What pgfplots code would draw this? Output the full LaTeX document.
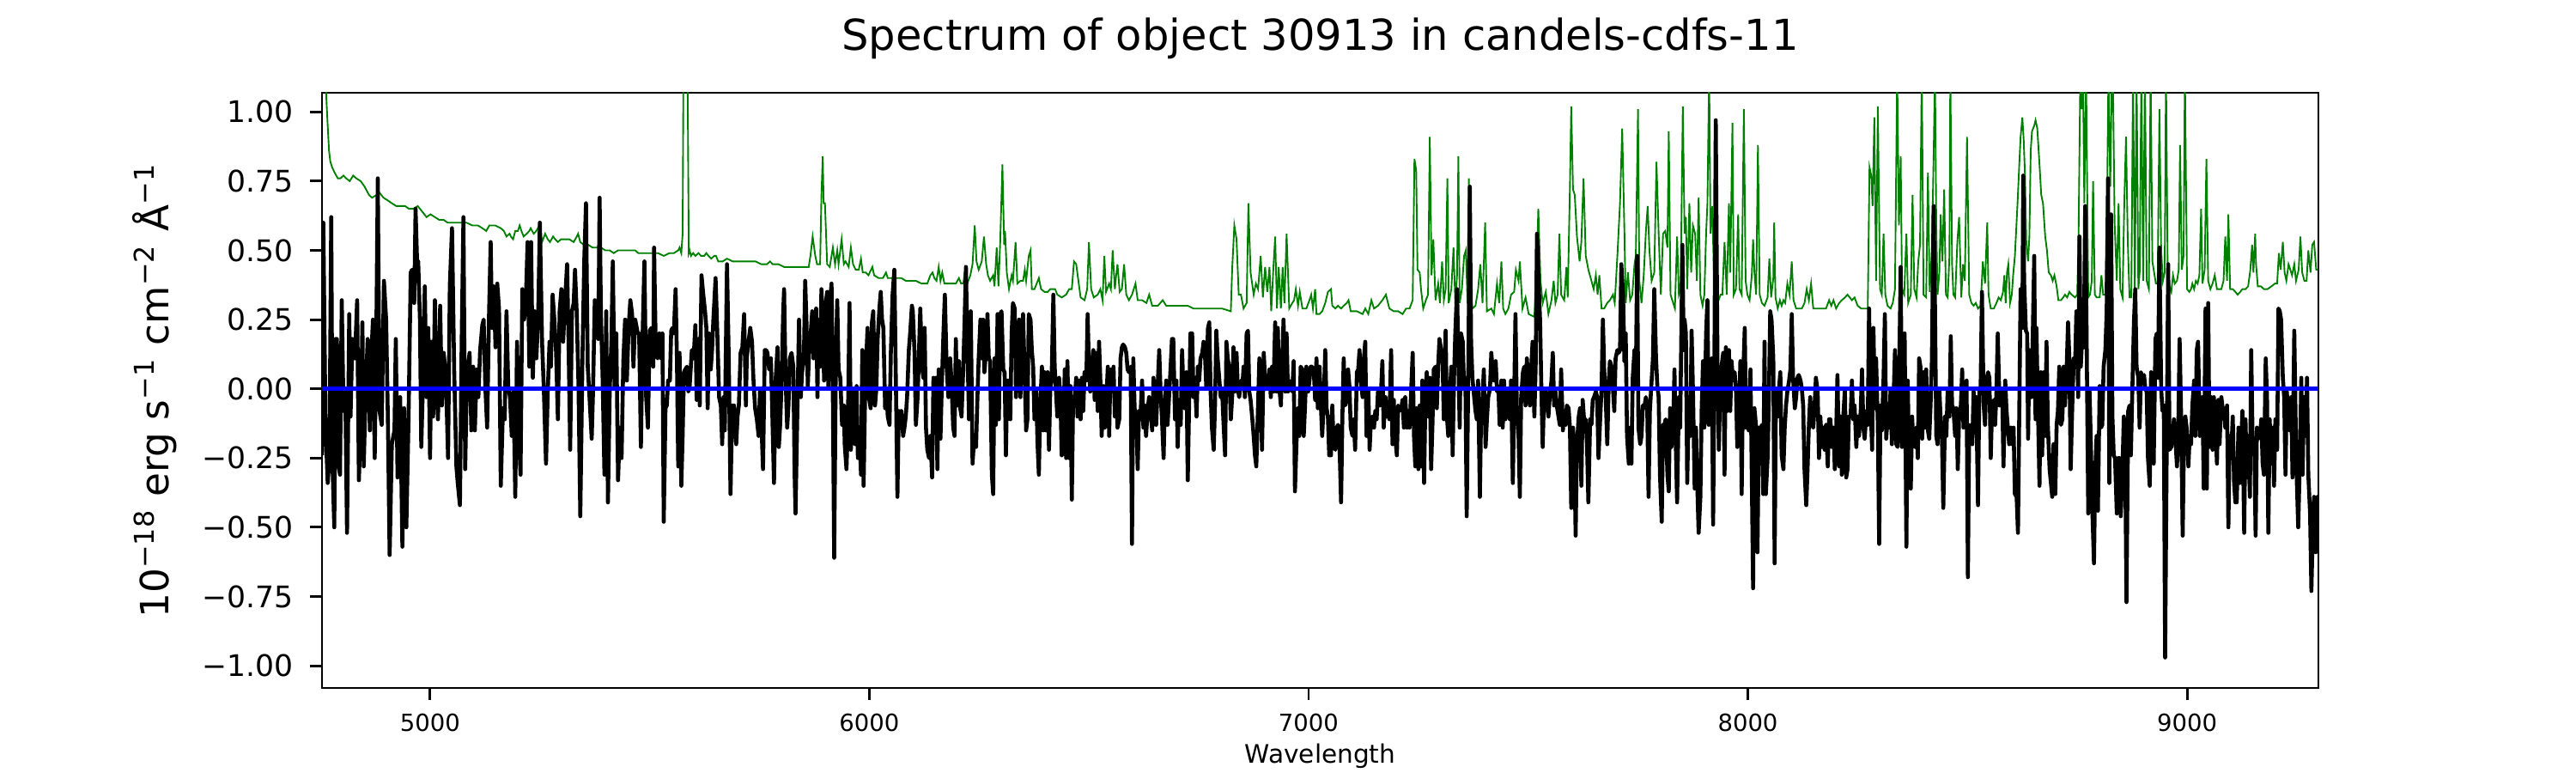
\documentclass[border=0pt]{standalone}
\usepackage{fontspec}
\setmainfont{DejaVu Sans}
\usepackage{pgfplots}
\pgfplotsset{compat=1.18}
\definecolor{mplgreen}{rgb}{0,0.5,0}
\begin{document}
\begin{tikzpicture}
\path[use as bounding box] (0,0) rectangle (720pt,216pt);
\begin{axis}[
  at={(90pt,23.76pt)}, anchor=south west,
  scale only axis, width=558pt, height=166.32pt,
  xmin=4754, xmax=9299, ymin=-1.08, ymax=1.069,
  xtick={5000,6000,7000,8000,9000},
  xticklabels={5000,6000,7000,8000,9000},
  ytick={-1,-0.75,-0.5,-0.25,0,0.25,0.5,0.75,1},
  yticklabels={−1.00,−0.75,−0.50,−0.25,0.00,0.25,0.50,0.75,1.00},
  scaled ticks=false,
  tick pos=left, tick align=outside, major tick length=3.4pt,
  major tick style={line width=0.7pt, black},
  axis line style={line width=0.7pt},
  xticklabel style={font=\fontsize{6.6}{8}\selectfont, anchor=base, yshift=-8.8pt},
  yticklabel style={font=\fontsize{8.3}{10}\selectfont, anchor=east, inner sep=0pt, xshift=-4.5pt},
  title={Spectrum of object 30913 in candels-cdfs-11},
  title style={font=\fontsize{11.9}{14}\selectfont, at={(axis description cs:0.5,1)}, anchor=base, yshift=5.8pt},
  xlabel={Wavelength},
  xlabel style={font=\fontsize{7.1}{9}\selectfont, at={(axis description cs:0.5,0)}, anchor=base, yshift=-20.9pt},
  ylabel={10\textsuperscript{−18} erg s\textsuperscript{−1} cm\textsuperscript{−2} Å\textsuperscript{−1}},
  ylabel style={font=\fontsize{10.9}{12}\selectfont, at={(axis description cs:-0.0839,0.5)}, anchor=center},
]
% green: error spectrum
\addplot[mplgreen, line width=0.45pt] coordinates {
(4754,1.6)(4763,1.08)(4767,0.95)(4770,0.86)(4773,0.82)(4777,0.80)(4783,0.78)(4790,0.76)(4796,0.76)(4803,0.77)(4809,0.76)(4817,0.75)(4825,0.77)(4832,0.76)(4842,0.75)(4851,0.73)(4861,0.70)(4868,0.69)(4878,0.70)(4884,0.71)(4894,0.69)(4904,0.68)(4913,0.67)(4923,0.66)(4933,0.66)(4943,0.66)(4952,0.65)(4962,0.65)(4972,0.66)(4982,0.64)(4992,0.62)(5001,0.63)(5011,0.62)(5021,0.61)(5031,0.61)(5040,0.60)(5050,0.60)(5060,0.60)(5070,0.60)(5083,0.60)(5096,0.59)(5109,0.59)(5119,0.58)(5128,0.57)(5135,0.59)(5148,0.59)(5161,0.58)(5168,0.57)(5174,0.55)(5181,0.56)(5184,0.55)(5189,0.54)(5194,0.57)(5200,0.57)(5204,0.59)(5208,0.57)(5213,0.55)(5220,0.56)(5226,0.57)(5229,0.58)(5236,0.56)(5242,0.57)(5249,0.59)(5255,0.53)(5262,0.56)(5268,0.54)(5273,0.53)(5280,0.55)(5285,0.54)(5291,0.53)(5298,0.54)(5308,0.54)(5317,0.54)(5327,0.53)(5334,0.55)(5337,0.56)(5342,0.53)(5350,0.52)(5360,0.52)(5370,0.51)(5379,0.51)(5389,0.51)(5399,0.50)(5409,0.50)(5418,0.49)(5428,0.50)(5438,0.50)(5448,0.50)(5458,0.50)(5467,0.50)(5474,0.49)(5484,0.49)(5493,0.49)(5503,0.49)
(5519,0.49)(5532,0.48)(5545,0.49)(5555,0.49)(5565,0.50)(5568,0.51)(5572,0.49)(5575,0.56)(5577,1.20)(5586,1.20)(5589,0.49)(5591,0.50)(5594,0.48)(5599,0.49)(5604,0.48)(5611,0.49)(5617,0.48)(5624,0.48)(5629,0.49)(5634,0.48)(5640,0.47)(5647,0.48)(5651,0.48)(5656,0.46)(5666,0.46)(5676,0.47)(5689,0.46)(5702,0.46)(5715,0.46)(5728,0.46)(5741,0.46)(5754,0.45)(5767,0.45)(5774,0.46)(5780,0.45)(5793,0.45)(5806,0.44)(5819,0.44)(5832,0.44)(5845,0.44)(5862,0.44)(5866,0.48)(5871,0.55)(5877,0.48)(5881,0.45)(5888,0.45)(5891,0.70)(5894,0.84)(5896,0.67)(5899,0.67)(5904,0.45)(5910,0.44)(5917,0.51)(5922,0.45)(5927,0.50)(5930,0.45)(5937,0.54)(5942,0.45)(5946,0.46)(5953,0.44)(5958,0.51)(5963,0.45)(5969,0.43)(5976,0.43)(5981,0.47)(5985,0.42)(5992,0.42)(5998,0.41)(6007,0.44)(6011,0.41)(6021,0.40)(6031,0.40)(6038,0.42)(6042,0.40)(6051,0.40)(6060,0.40)(6073,0.40)(6083,0.39)(6093,0.39)(6106,0.39)(6119,0.38)(6132,0.38)(6139,0.41)(6144,0.42)(6148,0.40)(6153,0.39)(6158,0.44)(6162,0.39)(6166,0.42)(6171,0.38)(6178,0.38)(6187,0.38)(6197,0.38)(6204,0.40)(6209,0.38)(6214,0.38)(6218,0.43)(6223,0.38)(6230,0.41)(6235,0.45)(6240,0.59)(6244,0.46)(6249,0.43)(6256,0.46)(6261,0.55)(6266,0.45)(6270,0.41)(6275,0.39)
(6282,0.41)(6285,0.37)(6290,0.51)(6294,0.37)(6298,0.53)(6303,0.81)(6307,0.52)(6309,0.57)(6313,0.42)(6318,0.36)(6324,0.41)(6327,0.39)(6333,0.53)(6337,0.38)(6344,0.39)(6350,0.39)(6354,0.43)(6357,0.39)(6363,0.48)(6367,0.50)(6370,0.36)(6376,0.36)(6381,0.38)(6386,0.40)(6391,0.36)(6399,0.35)(6406,0.35)(6412,0.36)(6419,0.36)(6423,0.36)(6428,0.34)(6438,0.33)(6448,0.34)(6455,0.36)(6461,0.36)(6466,0.46)(6471,0.45)(6476,0.39)(6481,0.33)(6490,0.32)(6496,0.36)(6500,0.53)(6505,0.36)(6511,0.33)(6520,0.34)(6526,0.36)(6531,0.32)(6535,0.48)(6539,0.35)(6546,0.38)(6550,0.36)(6554,0.50)(6559,0.36)(6562,0.41)(6565,0.45)(6570,0.35)(6575,0.36)(6580,0.45)(6585,0.34)(6591,0.32)(6598,0.34)(6602,0.36)(6606,0.38)(6611,0.32)(6621,0.32)(6631,0.31)(6637,0.34)(6644,0.30)(6657,0.30)(6668,0.32)(6676,0.30)(6686,0.30)(6699,0.30)(6712,0.30)(6725,0.30)(6738,0.29)(6751,0.29)(6764,0.29)(6777,0.29)(6790,0.29)(6803,0.29)(6823,0.28)(6826,0.43)(6831,0.59)(6836,0.54)(6841,0.34)(6846,0.34)(6852,0.29)(6859,0.31)(6863,0.67)(6868,0.42)(6875,0.34)(6880,0.38)(6885,0.36)(6891,0.48)(6896,0.33)(6901,0.44)(6906,0.35)(6911,0.44)(6915,0.28)(6920,0.44)(6924,0.55)(6928,0.29)(6932,0.44)(6937,0.29)(6941,0.44)(6945,0.31)(6950,0.56)(6956,0.29)(6963,0.31)(6967,0.32)(6971,0.36)(6976,0.30)(6980,0.35)(6986,0.29)(6995,0.29)(7002,0.32)(7006,0.34)(7010,0.29)(7015,0.36)(7018,0.27)(7025,0.27)(7031,0.28)(7038,0.31)(7044,0.35)(7051,0.36)
(7054,0.30)(7061,0.29)(7067,0.30)(7074,0.29)(7080,0.30)(7087,0.31)(7091,0.32)(7096,0.28)(7110,0.28)(7123,0.27)(7129,0.29)(7136,0.27)(7143,0.32)(7149,0.29)(7158,0.30)(7168,0.32)(7176,0.34)(7184,0.29)(7194,0.28)(7204,0.28)(7214,0.27)(7222,0.29)(7230,0.29)(7237,0.32)(7241,0.83)(7245,0.79)(7248,0.43)(7253,0.42)(7256,0.36)(7261,0.29)(7267,0.32)(7272,0.34)(7276,0.91)(7280,0.41)(7284,0.54)(7289,0.32)(7295,0.38)(7299,0.31)(7304,0.46)(7308,0.32)(7312,0.36)(7316,0.76)(7319,0.31)(7325,0.36)(7330,0.51)(7334,0.31)(7338,0.41)(7341,0.84)(7344,0.31)(7349,0.36)(7354,0.48)(7358,0.50)(7362,0.31)(7365,0.76)(7369,0.36)(7373,0.29)(7380,0.30)(7386,0.36)(7391,0.45)(7396,0.31)(7402,0.60)(7406,0.28)(7416,0.29)(7422,0.27)(7429,0.38)(7434,0.31)(7439,0.46)(7443,0.29)(7448,0.27)(7455,0.29)(7461,0.34)(7468,0.35)(7472,0.43)(7478,0.39)(7481,0.46)(7487,0.29)(7494,0.33)(7501,0.27)(7514,0.26)(7519,0.42)(7523,0.65)(7528,0.39)(7533,0.31)(7540,0.35)(7546,0.27)(7553,0.32)(7558,0.39)(7562,0.31)(7567,0.34)(7571,0.56)(7575,0.34)(7582,0.32)(7587,0.44)(7590,0.33)(7595,0.73)(7598,1.02)(7602,0.72)(7606,0.70)(7611,0.55)(7617,0.46)(7621,0.53)(7626,0.76)(7631,0.48)(7637,0.43)(7644,0.39)(7649,0.36)(7654,0.41)(7658,0.34)(7662,0.41)(7667,0.29)(7673,0.29)(7680,0.31)(7686,0.32)(7693,0.34)(7697,0.31)(7703,0.48)(7709,0.67)(7714,0.94)(7719,0.57)(7722,0.31)(7727,0.42)(7732,0.32)(7737,0.34)(7742,0.45)(7745,0.48)(7750,1.01)(7753,0.39)(7758,0.31)(7763,0.41)(7768,0.57)(7772,0.66)(7776,0.50)(7781,0.39)(7787,0.42)(7792,0.82)(7797,0.56)(7802,0.34)(7807,0.56)(7812,0.57)
(7817,0.51)(7820,0.93)(7824,0.34)(7830,0.31)(7834,0.29)(7839,0.55)(7843,0.34)(7847,0.36)(7852,1.02)(7856,0.56)(7859,0.62)(7862,0.36)(7867,0.67)(7871,0.42)(7875,0.59)(7880,0.56)(7884,0.39)(7888,0.69)(7892,0.34)(7897,0.30)(7901,0.34)(7905,0.56)(7908,0.67)(7912,1.15)(7915,0.56)(7919,0.66)(7924,0.34)(7931,0.31)(7938,0.34)(7942,0.34)(7947,0.53)(7952,0.34)(7957,0.67)(7960,0.42)(7965,0.96)(7968,0.34)(7973,0.36)(7978,0.63)(7981,0.36)(7986,0.34)(7991,1.01)(7995,0.39)(7999,0.34)(8004,0.32)(8009,0.41)(8012,0.54)(8015,0.42)(8019,0.34)(8023,0.88)(8027,0.34)(8032,0.31)(8038,0.30)(8045,0.33)(8049,0.47)(8053,0.33)(8058,0.40)(8060,0.60)(8063,0.33)(8068,0.29)(8073,0.32)(8077,0.30)(8081,0.32)(8085,0.31)(8090,0.38)(8095,0.34)(8100,0.46)(8104,0.32)(8110,0.29)(8116,0.29)(8123,0.29)(8129,0.31)(8134,0.36)(8139,0.32)(8144,0.38)(8149,0.29)(8159,0.29)(8169,0.29)(8178,0.29)(8185,0.32)(8190,0.30)(8195,0.32)(8201,0.29)(8208,0.31)(8214,0.32)(8221,0.33)(8227,0.34)(8232,0.33)(8237,0.32)(8243,0.33)(8250,0.30)(8258,0.29)(8266,0.29)(8273,0.29)(8277,0.80)(8281,0.77)(8284,0.66)(8288,0.98)(8292,0.39)(8296,1.02)(8301,0.36)(8305,0.34)(8309,0.56)(8313,0.34)(8318,0.30)(8325,0.29)(8330,0.31)(8335,0.36)(8340,1.15)(8344,0.59)(8348,0.84)(8351,0.36)(8356,0.34)(8361,0.56)(8365,0.31)(8371,0.34)(8375,0.70)(8379,0.36)(8384,0.33)(8388,0.46)(8392,0.52)(8396,1.15)(8400,0.34)(8406,0.33)(8410,0.78)(8414,0.35)(8419,0.50)(8423,0.84)(8426,1.15)(8429,0.59)(8432,0.34)(8436,0.42)(8439,0.63)(8443,0.46)(8447,0.72)(8451,0.34)(8455,0.33)(8459,0.48)(8461,1.15)(8465,0.45)(8468,0.34)(8472,0.33)(8477,0.53)(8481,0.62)(8486,0.33)(8490,0.45)(8494,0.39)(8499,0.91)(8504,0.34)(8509,0.31)(8514,0.30)(8519,0.31)(8524,0.29)(8530,0.30)(8535,0.46)(8540,0.38)(8545,0.60)(8548,0.34)(8553,0.29)(8560,0.29)(8566,0.31)(8571,0.33)(8576,0.32)
(8581,0.35)(8584,0.41)(8587,0.31)(8590,0.42)(8593,0.45)(8597,0.31)(8601,0.34)(8604,0.41)(8608,0.48)(8614,0.67)(8618,0.81)(8621,0.91)(8625,0.98)(8628,0.90)(8631,0.77)(8634,0.53)(8638,0.46)(8641,0.55)(8644,0.86)(8647,0.93)(8652,0.95)(8655,0.97)(8659,0.94)(8664,0.81)(8668,0.70)(8672,0.67)(8677,0.55)(8681,0.50)(8685,0.42)(8690,0.41)(8694,0.39)(8698,0.41)(8703,0.37)(8707,0.32)(8713,0.32)(8718,0.33)(8722,0.34)(8727,0.33)(8732,0.35)(8737,0.34)(8745,0.33)(8750,0.34)(8753,0.56)(8757,1.15)(8760,1.01)(8763,1.15)(8766,0.67)(8770,1.15)(8775,0.33)(8779,0.34)(8783,0.39)(8786,0.75)(8790,0.34)(8794,0.33)(8801,0.33)(8805,0.41)(8809,0.34)(8814,0.34)(8818,0.70)(8821,1.15)(8825,0.73)(8829,1.15)(8831,1.15)(8835,0.60)(8840,0.39)(8844,0.67)(8848,0.36)(8853,0.33)(8857,0.67)(8861,0.91)(8865,0.53)(8869,0.33)(8873,0.33)(8877,1.15)(8881,0.36)(8885,1.15)(8889,0.36)(8892,0.42)(8896,1.15)(8900,0.39)(8904,1.15)(8908,0.39)(8913,0.36)(8917,1.15)(8921,0.46)(8925,0.42)(8929,0.38)(8933,0.38)(8937,1.01)(8941,0.50)(8945,0.39)(8949,0.42)(8952,1.15)(8956,0.39)(8960,0.37)(8964,0.35)(8968,0.41)(8972,0.38)(8977,0.39)(8981,0.43)(8984,0.88)(8988,0.43)(8992,0.48)(8995,1.15)(9000,0.36)(9005,0.35)(9009,0.36)(9012,0.38)(9016,0.36)(9020,0.39)(9024,0.38)(9028,0.41)(9032,0.65)(9035,0.38)(9040,0.43)(9044,0.83)(9048,0.39)(9053,0.36)(9058,0.38)(9063,0.41)(9068,0.36)(9072,0.36)(9078,0.36)(9083,0.39)(9087,0.55)(9091,0.39)(9094,0.63)(9098,0.36)(9104,0.36)(9110,0.35)(9115,0.34)(9121,0.35)(9126,0.36)(9133,0.36)(9139,0.37)(9144,0.43)(9148,0.52)(9151,0.42)(9155,0.56)(9157,0.45)(9161,0.37)(9168,0.37)(9175,0.36)(9183,0.36)(9192,0.37)(9200,0.38)(9205,0.38)(9209,0.49)(9213,0.43)(9218,0.53)(9222,0.42)(9226,0.39)(9231,0.45)(9235,0.43)(9239,0.41)(9244,0.45)(9248,0.39)(9254,0.43)(9258,0.55)(9262,0.42)(9267,0.39)(9272,0.39)(9276,0.50)(9281,0.42)(9285,0.52)(9289,0.53)(9294,0.43)(9298,0.43)
};
% black: flux
\addplot[black, line width=1.1pt, line join=round] coordinates {
(4754,-0.24)(4757,0.60)(4762,-0.13)(4767,-0.34)(4771,-0.25)(4775,0.62)(4778,-0.28)(4782,-0.50)(4785,0.18)(4788,0.18)(4791,-0.27)(4795,-0.31)(4799,0.32)(4803,-0.08)(4807,-0.01)(4811,-0.52)(4816,0.27)(4819,-0.10)(4823,0.18)(4829,0.11)(4834,0.32)(4838,-0.33)(4842,-0.13)(4846,0.24)(4849,-0.28)(4853,-0.03)(4858,0.18)(4863,-0.15)(4866,0.11)(4870,0.25)(4874,-0.25)(4878,0.25)(4881,0.76)(4885,-0.08)(4890,-0.13)(4895,0.39)(4900,0.25)(4904,-0.11)(4908,-0.60)(4913,-0.20)(4919,-0.15)(4922,0.18)(4926,-0.32)(4932,-0.03)(4937,-0.57)(4941,-0.07)(4946,-0.50)(4951,-0.11)(4956,0.42)(4959,0.43)(4964,0.31)(4967,0.65)(4971,0.43)(4973,0.46)(4977,0.25)(4980,-0.21)(4984,0.03)(4988,0.37)(4992,-0.03)(4996,0.22)(5000,-0.25)(5003,0.17)(5007,-0.10)(5011,0.32)(5014,0.03)(5018,-0.11)(5023,0.30)(5027,-0.06)(5031,0.13)(5036,0.05)(5041,-0.25)(5045,0.37)(5050,0.58)(5055,0.06)(5060,-0.28)(5063,-0.34)(5068,-0.42)(5072,0.17)(5076,0.62)(5080,-0.29)(5083,-0.03)(5086,0.08)(5090,0.13)(5094,-0.15)(5098,0.08)(5102,-0.15)(5106,0.07)(5110,-0.03)(5114,0.14)(5119,0.23)(5122,0.25)(5126,0.00)(5130,-0.14)(5134,0.25)(5138,0.53)(5141,0.22)(5145,0.37)(5149,0.15)(5153,0.38)(5157,0.29)(5161,-0.35)(5166,-0.07)(5170,-0.11)(5174,0.28)(5178,0.01)(5182,-0.03)(5186,-0.17)(5190,-0.01)(5194,-0.39)(5198,0.17)(5202,-0.15)(5206,-0.31)(5210,0.36)(5214,0.25)(5218,0.31)(5222,0.53)(5226,0.08)(5230,0.53)(5234,0.04)(5238,0.28)(5242,0.11)(5246,0.25)(5250,0.60)(5255,0.17)(5259,0.00)(5264,-0.27)(5268,-0.01)(5272,0.17)(5275,0.08)(5279,0.34)(5283,0.25)(5287,0.13)(5291,-0.11)(5295,0.28)(5299,0.36)(5303,0.17)(5307,0.31)(5312,0.45)(5315,0.20)(5319,-0.22)(5323,0.28)(5327,0.31)(5330,0.43)(5334,0.27)(5338,0.01)(5342,-0.46)(5347,0.12)(5351,0.46)(5355,0.67)(5359,0.08)(5363,-0.03)(5368,-0.18)(5371,-0.01)(5375,0.32)(5379,0.25)(5383,0.18)(5386,0.69)(5389,0.27)(5393,0.03)(5397,-0.31)(5401,0.28)(5405,-0.41)(5409,-0.01)(5413,0.18)(5416,0.46)(5420,0.00)(5424,0.20)(5428,-0.33)(5432,-0.14)(5436,-0.25)(5440,0.10)(5444,0.25)(5448,0.03)(5452,0.22)(5456,0.32)(5460,0.27)(5463,0.08)(5467,0.25)(5473,0.20)(5476,0.20)(5480,-0.21)(5484,0.20)(5488,0.46)(5492,-0.03)(5496,-0.14)(5500,0.21)(5504,0.22)(5508,0.08)
(5510,0.51)(5514,0.13)(5518,0.11)(5522,0.20)(5526,0.11)(5529,0.20)(5532,-0.48)(5536,-0.07)(5539,-0.06)(5542,0.03)(5546,0.03)(5549,0.21)(5552,0.22)(5555,0.20)(5559,0.36)(5562,0.11)(5565,-0.28)(5568,0.13)(5572,-0.35)(5575,-0.17)(5578,0.06)(5581,0.07)(5585,0.08)(5588,-0.01)(5591,0.01)(5596,0.14)(5600,0.11)(5604,0.23)(5607,-0.04)(5611,0.18)(5614,-0.06)(5618,0.41)(5622,0.34)(5626,0.28)(5629,0.22)(5632,-0.07)(5635,0.20)(5639,0.07)(5642,0.14)(5645,0.25)(5650,0.40)(5654,0.20)(5658,-0.03)(5662,-0.06)(5665,-0.20)(5668,-0.03)(5671,-0.15)(5676,0.45)(5680,0.11)(5684,-0.38)(5688,-0.06)(5692,-0.06)(5697,-0.20)(5700,-0.10)(5703,-0.06)(5707,0.13)(5711,0.15)(5715,0.27)(5719,-0.06)(5721,0.11)(5725,0.17)(5729,0.22)(5733,0.17)(5736,0.04)(5740,-0.07)(5744,-0.11)(5748,-0.17)(5751,-0.01)(5754,-0.11)(5758,-0.29)(5762,0.14)(5765,0.14)(5768,0.13)(5772,0.07)(5776,0.11)(5779,-0.08)(5783,-0.34)(5787,0.04)(5791,0.15)(5794,-0.21)(5797,-0.13)(5800,0.01)(5804,0.28)(5806,0.36)(5809,0.06)(5813,-0.14)(5816,-0.06)(5819,0.11)(5823,0.13)(5827,0.08)(5830,-0.31)(5832,-0.45)(5836,-0.10)(5840,0.25)(5844,-0.03)(5847,0.06)(5851,0.11)(5854,0.39)(5857,0.24)(5860,0.01)(5864,0.18)(5867,0.21)(5870,0.28)(5873,0.11)(5876,0.20)(5879,0.29)(5882,-0.03)(5884,0.25)(5888,0.08)(5891,0.36)(5895,0.20)(5897,0.03)(5901,0.31)(5904,0.35)(5907,0.00)(5910,0.31)(5914,0.38)(5917,-0.01)(5920,-0.61)(5924,0.13)(5927,0.32)(5930,0.07)(5934,0.04)(5938,-0.13)(5942,-0.06)(5944,-0.20)(5948,-0.29)(5951,-0.14)(5955,0.31)(5958,-0.22)(5961,-0.14)(5965,0.00)(5968,-0.20)(5971,0.01)(5974,-0.25)(5978,-0.15)(5981,-0.31)(5984,0.14)(5987,-0.35)(5990,-0.06)(5993,0.11)(5996,0.22)(6000,-0.04)(6003,-0.07)(6006,0.24)(6009,0.28)(6013,-0.06)(6016,0.00)(6019,0.18)(6023,0.29)(6026,0.35)(6029,0.25)(6032,0.22)(6036,-0.07)(6039,-0.01)(6042,-0.10)(6046,-0.13)(6049,0.13)(6053,0.34)(6057,0.43)(6060,0.08)(6064,-0.39)(6067,-0.08)(6070,-0.14)(6073,-0.08)(6077,-0.17)(6080,-0.14)(6083,-0.10)(6086,-0.03)(6090,0.14)(6093,0.20)(6097,0.30)(6099,0.28)(6103,0.13)(6106,-0.13)(6110,-0.03)(6113,0.13)(6116,0.29)(6120,0.08)(6123,0.04)(6126,0.22)(6129,-0.14)(6132,-0.22)(6136,-0.25)(6139,-0.17)(6143,-0.32)(6146,0.04)(6149,-0.11)(6152,0.04)(6155,-0.29)(6158,0.07)(6162,-0.18)(6165,0.01)(6169,0.21)(6172,0.34)(6176,0.08)(6180,-0.03)(6184,0.11)(6187,0.03)(6191,-0.14)(6194,-0.17)(6197,0.18)(6200,-0.06)(6204,0.10)(6207,-0.07)(6210,-0.10)(6214,0.08)(6217,0.25)(6220,0.44)(6223,0.17)(6227,-0.11)(6231,0.28)(6235,-0.27)(6239,-0.17)(6243,-0.21)(6246,-0.04)(6249,0.11)(6253,0.25)(6256,0.11)(6259,0.25)(6262,0.06)(6266,0.14)(6269,0.27)(6272,0.11)(6275,0.10)(6279,-0.31)(6282,-0.38)(6285,0.11)
(6288,-0.13)(6292,0.27)(6295,-0.11)(6298,0.27)(6301,0.28)(6305,0.07)(6308,0.06)(6311,-0.24)(6314,0.03)(6318,0.03)(6321,-0.11)(6324,0.20)(6327,0.31)(6331,0.29)(6334,-0.03)(6337,0.10)(6341,0.25)(6344,-0.03)(6347,0.18)(6350,0.27)(6354,0.03)(6357,-0.15)(6360,-0.11)(6363,0.27)(6367,0.25)(6370,0.14)(6373,0.08)(6376,-0.11)(6380,-0.01)(6383,-0.20)(6386,-0.31)(6389,-0.06)(6393,0.08)(6396,-0.15)(6399,0.06)(6402,-0.15)(6406,0.06)(6409,-0.22)(6412,0.00)(6415,0.03)(6419,0.34)(6422,0.08)(6425,-0.01)(6428,-0.10)(6432,0.04)(6435,-0.03)(6438,-0.24)(6441,-0.17)(6445,0.07)(6448,-0.25)(6451,0.10)(6455,-0.25)(6458,0.01)(6461,-0.40)(6464,-0.03)(6468,-0.03)(6471,0.04)(6474,-0.10)(6477,0.03)(6481,-0.11)(6484,0.04)(6487,-0.08)(6490,0.06)(6494,0.03)(6497,0.27)(6500,0.08)(6503,-0.01)(6507,0.08)(6510,0.14)(6513,-0.04)(6516,0.13)(6520,-0.08)(6523,0.17)(6526,0.03)(6529,-0.17)(6533,0.01)(6536,-0.14)(6539,-0.06)(6543,0.08)(6546,-0.17)(6549,0.07)(6552,-0.01)(6556,0.08)(6559,-0.10)(6562,0.00)(6565,-0.14)(6569,-0.11)(6572,0.11)(6575,0.15)(6578,0.16)(6582,0.15)(6585,0.13)(6588,0.07)(6591,0.06)(6595,0.08)(6598,-0.56)(6601,0.11)(6604,-0.07)(6608,-0.11)(6611,-0.29)(6614,-0.08)(6617,-0.11)(6621,0.03)(6624,-0.14)(6627,-0.06)(6630,-0.17)(6634,-0.07)(6637,-0.03)(6640,-0.08)(6644,-0.15)(6647,0.04)(6650,-0.06)(6653,-0.13)(6657,0.03)(6660,0.14)(6663,-0.01)(6666,-0.10)(6670,-0.25)(6673,-0.04)(6676,0.03)(6679,-0.13)(6683,-0.01)(6686,0.08)(6689,0.18)(6692,0.18)(6696,-0.11)(6699,0.03)(6702,-0.21)(6705,-0.04)(6709,-0.13)(6712,0.14)(6715,0.00)(6718,-0.07)(6722,0.06)(6725,-0.33)(6728,-0.06)(6731,0.20)(6735,0.20)(6738,-0.03)(6741,0.04)(6745,-0.10)(6748,0.08)(6751,0.03)(6754,0.11)(6758,0.13)(6761,0.17)(6764,0.13)(6767,0.01)(6771,0.22)(6774,0.24)(6777,-0.01)(6780,-0.14)(6784,-0.22)(6787,-0.06)(6790,0.21)(6793,0.11)(6797,0.03)(6800,-0.03)(6803,0.00)(6806,-0.11)(6810,-0.24)(6813,0.17)(6816,0.11)(6819,0.08)(6823,-0.11)(6826,-0.03)(6829,0.15)(6832,-0.01)(6836,0.13)(6839,0.00)(6842,-0.03)(6846,0.03)(6849,0.00)(6852,0.08)(6855,-0.03)(6859,0.20)(6862,0.21)(6865,-0.01)(6868,-0.04)(6872,-0.11)(6875,-0.17)(6878,-0.24)(6881,-0.28)(6885,-0.06)(6888,0.11)(6891,0.00)(6894,-0.22)(6898,0.13)(6901,0.03)(6904,0.01)(6907,0.00)(6911,0.07)(6914,-0.03)(6917,0.08)(6920,-0.01)(6924,0.24)(6927,-0.01)(6930,0.22)(6933,0.01)(6937,-0.06)(6940,0.10)(6943,0.25)(6947,-0.01)(6950,0.20)(6953,-0.01)(6956,0.03)(6960,0.00)(6963,-0.01)(6966,0.10)(6969,-0.37)(6973,-0.17)(6976,-0.07)(6979,-0.17)(6982,0.08)(6986,0.07)(6989,-0.17)(6992,-0.06)(6995,0.08)(6999,-0.01)(7002,0.03)(7005,0.08)(7008,0.08)(7012,0.06)(7015,-0.04)(7018,0.11)(7021,-0.07)(7025,0.08)(7028,-0.06)(7031,-0.17)(7034,-0.07)(7038,0.14)(7041,-0.07)(7044,-0.10)(7047,-0.24)
(7051,-0.24)(7054,-0.06)(7057,-0.20)(7061,-0.22)(7064,-0.14)(7067,-0.13)(7070,-0.18)(7074,-0.41)(7077,-0.10)(7080,0.11)(7083,-0.06)(7087,-0.04)(7090,0.07)(7093,0.01)(7096,-0.14)(7100,-0.17)(7103,-0.11)(7106,-0.22)(7110,0.06)(7113,0.07)(7116,0.14)(7119,0.03)(7123,-0.03)(7126,0.11)(7129,0.17)(7132,-0.17)(7136,0.00)(7139,-0.22)(7142,-0.11)(7145,-0.10)(7149,-0.14)(7152,-0.08)(7155,-0.11)(7158,-0.01)(7162,-0.06)(7165,-0.01)(7168,0.10)(7171,-0.14)(7175,-0.03)(7178,-0.10)(7181,-0.07)(7184,-0.11)(7188,0.14)(7191,-0.20)(7194,-0.04)(7197,-0.17)(7201,-0.24)(7204,-0.06)(7207,-0.08)(7211,-0.07)(7214,-0.04)(7217,-0.14)(7220,-0.03)(7224,-0.14)(7227,-0.08)(7230,-0.14)(7233,-0.03)(7237,0.13)(7240,-0.17)(7243,-0.28)(7246,-0.07)(7250,-0.29)(7253,-0.06)(7256,-0.28)(7259,0.03)(7263,-0.34)(7266,-0.03)(7269,0.06)(7272,-0.10)(7276,0.04)(7279,-0.29)(7282,-0.13)(7285,0.07)(7289,0.08)(7292,-0.07)(7295,0.08)(7298,0.18)(7302,0.14)(7305,0.10)(7308,-0.11)(7312,0.21)(7315,-0.10)(7318,-0.17)(7321,-0.03)(7325,0.08)(7328,-0.24)(7331,0.03)(7334,0.20)(7338,0.36)(7341,0.11)(7344,-0.14)(7347,0.20)(7351,0.17)(7354,0.00)(7357,0.04)(7360,-0.46)(7364,0.11)(7367,0.73)(7370,0.17)(7373,0.04)(7377,-0.03)(7380,-0.08)(7383,-0.11)(7386,0.03)(7390,-0.39)(7393,-0.06)(7396,-0.03)(7399,0.07)(7403,-0.21)(7406,-0.11)(7409,-0.03)(7413,0.00)(7416,0.13)(7419,0.07)(7422,0.03)(7426,0.10)(7429,-0.01)(7432,0.01)(7435,-0.13)(7439,0.03)(7442,-0.14)(7445,0.03)(7448,-0.11)(7452,-0.03)(7455,0.00)(7458,-0.11)(7461,0.03)(7465,-0.34)(7468,-0.04)(7471,0.27)(7474,-0.06)(7478,-0.17)(7481,-0.39)(7484,-0.03)(7488,0.06)(7491,0.08)(7494,-0.06)(7497,0.11)(7501,0.00)(7504,-0.06)(7507,0.08)(7510,0.17)(7514,-0.10)(7517,0.08)(7520,0.56)(7523,0.42)(7527,0.25)(7530,0.00)(7533,-0.21)(7536,-0.03)(7540,0.00)(7543,-0.06)(7546,-0.10)(7549,-0.03)(7553,0.03)(7556,0.13)(7559,-0.06)(7562,-0.01)(7566,-0.07)(7569,-0.10)(7572,-0.13)(7575,0.07)(7579,-0.15)(7582,-0.08)(7585,-0.13)(7588,-0.06)(7592,-0.07)(7595,-0.14)(7598,-0.43)(7602,-0.14)(7605,-0.22)(7608,-0.53)(7611,-0.20)(7615,-0.10)(7618,-0.07)(7621,-0.35)(7624,-0.04)(7628,-0.13)(7631,-0.11)(7634,-0.21)(7637,-0.41)(7641,-0.11)(7644,-0.13)(7647,-0.04)(7650,-0.03)(7654,-0.01)(7657,-0.03)(7660,-0.25)(7663,-0.14)(7667,0.00)(7670,0.25)(7673,0.07)(7676,-0.01)(7680,-0.20)(7683,0.00)(7686,0.10)(7690,0.08)(7693,0.00)(7696,-0.08)(7699,0.11)(7703,0.14)(7706,0.13)(7709,0.14)(7712,0.45)(7716,0.34)(7719,0.10)(7722,0.20)(7725,-0.17)(7729,-0.27)(7732,-0.14)(7735,-0.27)(7738,0.04)(7742,0.14)(7745,0.01)(7748,0.48)(7751,-0.14)(7755,-0.20)(7758,-0.17)(7761,-0.06)(7764,-0.07)(7768,-0.03)(7771,-0.07)(7774,-0.39)(7777,-0.08)(7781,0.03)(7784,0.11)(7787,0.36)(7791,0.11)(7794,0.01)(7797,-0.03)(7800,-0.31)(7804,-0.48)(7807,-0.13)(7810,-0.13)
(7813,-0.11)(7817,-0.31)(7820,-0.37)(7823,-0.07)(7826,-0.21)(7830,-0.14)(7833,0.07)(7836,-0.20)(7839,-0.41)(7843,-0.03)(7846,-0.14)(7849,0.25)(7851,0.52)(7854,0.14)(7856,0.25)(7859,0.20)(7862,-0.34)(7866,-0.03)(7869,-0.17)(7872,0.21)(7875,0.00)(7879,-0.36)(7882,-0.14)(7885,-0.35)(7888,-0.52)(7892,-0.39)(7895,-0.07)(7898,0.10)(7901,-0.14)(7905,0.20)(7908,0.32)(7911,-0.13)(7914,0.00)(7918,0.11)(7921,-0.49)(7924,0.11)(7927,0.97)(7931,0.08)(7934,-0.22)(7937,0.00)(7940,0.08)(7944,0.13)(7947,-0.31)(7950,0.15)(7953,-0.08)(7957,0.14)(7960,-0.08)(7963,0.10)(7966,0.03)(7970,0.06)(7973,0.00)(7976,-0.21)(7980,-0.10)(7983,0.10)(7986,-0.38)(7989,0.03)(7993,0.22)(7996,-0.14)(7999,0.00)(8002,-0.15)(8006,0.07)(8009,-0.31)(8012,-0.72)(8015,-0.07)(8019,-0.14)(8022,-0.59)(8025,-0.14)(8028,-0.15)(8032,-0.13)(8035,-0.38)(8038,0.17)(8041,-0.38)(8045,-0.25)(8048,-0.03)(8051,0.28)(8054,0.25)(8058,0.11)(8061,-0.63)(8064,0.00)(8068,-0.10)(8071,0.00)(8074,0.06)(8077,-0.24)(8081,-0.29)(8084,-0.14)(8087,-0.06)(8090,-0.01)(8094,0.03)(8097,0.07)(8100,0.27)(8103,0.04)(8107,-0.07)(8110,-0.03)(8113,0.04)(8116,0.05)(8120,0.03)(8123,0.00)(8126,-0.06)(8129,-0.29)(8133,-0.42)(8136,-0.29)(8139,-0.13)(8142,-0.03)(8146,-0.13)(8149,-0.14)(8152,-0.06)(8155,0.04)(8159,-0.01)(8162,-0.25)(8165,-0.10)(8169,-0.21)(8172,-0.14)(8175,-0.22)(8178,-0.13)(8182,-0.28)(8185,-0.11)(8188,-0.11)(8191,-0.21)(8195,-0.14)(8198,-0.29)(8201,-0.17)(8204,0.05)(8208,-0.28)(8211,-0.10)(8214,-0.31)(8217,-0.11)(8221,0.00)(8224,-0.32)(8227,-0.29)(8230,-0.10)(8234,-0.10)(8237,0.03)(8240,-0.11)(8243,-0.06)(8247,-0.21)(8250,-0.10)(8253,-0.17)(8257,-0.08)(8260,0.07)(8263,-0.14)(8266,-0.18)(8270,-0.08)(8273,-0.13)(8276,0.29)(8279,-0.03)(8283,-0.22)(8286,0.22)(8289,-0.07)(8292,0.11)(8296,-0.13)(8299,-0.56)(8302,-0.06)(8305,-0.15)(8309,0.04)(8312,0.27)(8315,-0.18)(8318,-0.11)(8322,-0.14)(8325,0.00)(8328,-0.20)(8331,-0.08)(8335,0.14)(8338,-0.20)(8341,-0.21)(8344,0.00)(8348,0.44)(8351,-0.21)(8354,0.11)(8357,0.20)(8361,-0.57)(8364,0.03)(8367,-0.24)(8371,-0.36)(8374,-0.10)(8377,-0.20)(8380,-0.21)(8384,-0.14)(8387,-0.25)(8390,0.11)(8393,0.08)(8397,-0.18)(8400,0.06)(8403,-0.14)(8406,0.07)(8410,-0.15)(8413,-0.18)(8416,-0.06)(8419,0.10)(8423,0.66)(8426,0.31)(8429,-0.17)(8432,-0.20)(8436,0.00)(8439,-0.11)(8442,-0.18)(8445,-0.43)(8449,-0.10)(8452,-0.17)(8455,0.00)(8459,-0.10)(8462,0.19)(8465,-0.06)(8468,-0.07)(8472,-0.17)(8475,-0.07)(8478,-0.29)(8481,-0.10)(8485,-0.06)(8488,0.07)(8491,-0.14)(8494,-0.08)(8498,0.03)(8501,-0.68)(8504,-0.13)(8507,-0.14)(8511,-0.20)(8514,-0.01)(8517,-0.14)(8520,-0.03)(8524,-0.42)(8527,-0.01)(8530,0.00)(8533,0.35)(8537,-0.06)(8540,-0.13)(8543,0.03)(8547,0.06)(8550,0.04)(8553,-0.25)(8556,-0.07)(8560,-0.04)(8563,-0.13)(8566,-0.01)(8569,0.20)(8573,-0.06)(8576,-0.03)
(8579,0.00)(8582,-0.28)(8586,0.03)(8589,-0.08)(8592,-0.14)(8595,-0.20)(8599,-0.14)(8602,-0.20)(8605,-0.14)(8608,-0.38)(8612,-0.39)(8615,-0.52)(8618,-0.08)(8621,0.36)(8625,0.22)(8627,0.77)(8629,0.39)(8633,0.21)(8636,0.20)(8638,-0.18)(8641,0.14)(8644,-0.03)(8646,-0.03)(8649,0.22)(8652,0.48)(8655,-0.11)(8657,0.22)(8660,-0.03)(8664,-0.35)(8667,0.06)(8670,-0.24)(8674,0.06)(8677,-0.17)(8680,0.17)(8683,-0.13)(8687,-0.29)(8690,-0.34)(8693,-0.39)(8696,-0.20)(8700,-0.38)(8703,-0.13)(8706,-0.08)(8709,0.08)(8713,-0.13)(8716,-0.11)(8719,0.08)(8722,-0.06)(8726,0.08)(8729,0.24)(8732,0.11)(8735,-0.29)(8739,-0.04)(8742,0.11)(8745,0.08)(8748,0.28)(8752,-0.03)(8755,0.55)(8758,0.08)(8761,0.18)(8765,0.15)(8768,0.66)(8771,0.24)(8775,-0.45)(8778,-0.01)(8781,-0.20)(8784,-0.42)(8788,-0.63)(8791,-0.29)(8794,-0.17)(8797,-0.44)(8801,0.01)(8804,-0.14)(8807,-0.13)(8810,0.08)(8814,0.14)(8817,0.28)(8820,0.76)(8823,-0.34)(8827,0.63)(8830,-0.10)(8833,-0.24)(8836,-0.25)(8840,-0.45)(8843,-0.25)(8846,-0.25)(8849,-0.46)(8853,-0.28)(8856,-0.10)(8859,-0.22)(8862,-0.77)(8866,-0.08)(8869,-0.06)(8872,-0.24)(8876,0.04)(8879,0.24)(8882,0.36)(8885,0.08)(8889,0.04)(8892,-0.14)(8895,0.06)(8898,0.04)(8902,0.05)(8905,0.00)(8908,-0.01)(8911,-0.25)(8915,-0.35)(8918,0.06)(8921,-0.03)(8924,-0.27)(8928,0.18)(8931,0.20)(8934,0.04)(8937,0.51)(8941,0.00)(8944,-0.08)(8947,-0.06)(8950,-0.97)(8954,-0.14)(8957,0.45)(8960,-0.22)(8964,-0.21)(8967,-0.17)(8970,-0.11)(8973,-0.17)(8977,-0.28)(8980,-0.14)(8983,0.18)(8986,-0.06)(8990,-0.53)(8993,-0.17)(8996,-0.10)(8999,-0.14)(9003,-0.28)(9006,-0.17)(9009,-0.20)(9012,-0.06)(9016,0.03)(9019,-0.17)(9022,0.14)(9025,0.17)(9029,-0.17)(9032,-0.14)(9035,-0.03)(9038,-0.36)(9042,0.29)(9045,-0.36)(9048,0.31)(9051,-0.21)(9055,-0.03)(9058,-0.22)(9061,-0.03)(9065,-0.15)(9068,-0.27)(9071,-0.04)(9074,-0.20)(9078,-0.03)(9081,-0.07)(9084,-0.07)(9087,-0.14)(9091,-0.06)(9094,-0.50)(9097,-0.17)(9100,-0.25)(9104,-0.10)(9107,-0.34)(9110,-0.41)(9113,-0.41)(9117,-0.14)(9120,-0.34)(9123,-0.20)(9126,-0.08)(9130,-0.52)(9133,-0.11)(9136,-0.32)(9139,-0.17)(9143,-0.39)(9146,0.14)(9149,-0.17)(9153,-0.20)(9156,-0.53)(9159,-0.14)(9162,-0.18)(9166,-0.17)(9169,-0.11)(9172,-0.27)(9175,-0.31)(9179,0.11)(9182,-0.03)(9185,-0.52)(9188,-0.11)(9192,-0.27)(9195,-0.14)(9198,-0.35)(9201,-0.11)(9205,-0.22)(9208,0.29)(9211,0.28)(9214,0.25)(9218,0.04)(9221,-0.03)(9224,-0.31)(9227,-0.01)(9231,-0.11)(9234,-0.15)(9237,-0.03)(9240,-0.32)(9244,0.21)(9247,-0.10)(9250,-0.34)(9253,-0.50)(9257,-0.24)(9260,0.04)(9263,-0.31)(9266,-0.03)(9270,-0.17)(9273,0.04)(9276,-0.31)(9280,-0.45)(9283,-0.73)(9286,-0.52)(9289,-0.39)(9293,-0.59)(9296,-0.39)(9299,-0.41)
};
% blue: zero level
\addplot[blue, line width=1.3pt] coordinates {(4754,0) (9299,0)};
\end{axis}
\end{tikzpicture}
\end{document}
